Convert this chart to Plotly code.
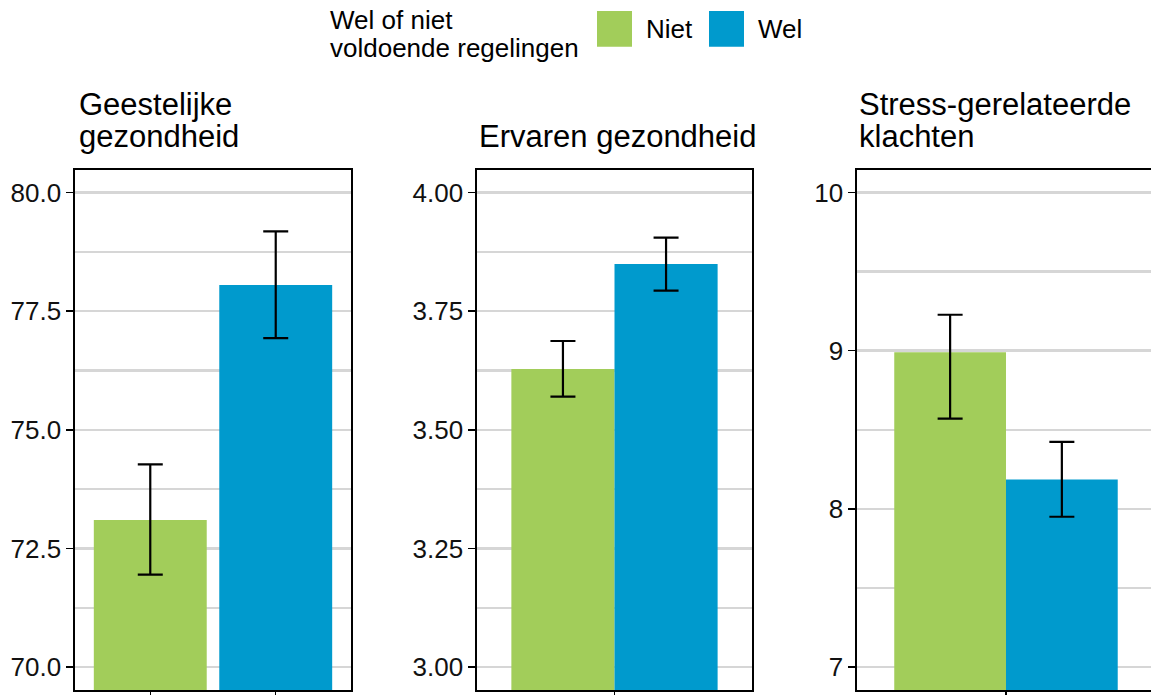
import plotly.graph_objects as go

# ---- data ----
panel_titles = [["Geestelijke", "gezondheid"], ["Ervaren gezondheid"], ["Stress-gerelateerde", "klachten"]]
groups = ["Niet", "Wel"]
legend_title = ["Wel of niet", "voldoende regelingen"]

geest_mean = [73.10, 78.05]
geest_low = [71.95, 76.93]
geest_high = [74.27, 79.18]

ervaren_mean = [3.628, 3.849]
ervaren_low = [3.570, 3.793]
ervaren_high = [3.687, 3.905]

stress_mean = [8.99, 8.185]
stress_low = [8.57, 7.95]
stress_high = [9.227, 8.424]

ytick_geest = [70.0, 72.5, 75.0, 77.5, 80.0]
ytick_ervaren = [3.00, 3.25, 3.50, 3.75, 4.00]
ytick_stress = [7, 8, 9, 10]

colors = {"Niet": "#A2CD5A", "Wel": "#009ACD"}

W, H = 1151, 695
FONT = "Liberation Sans, Arial, sans-serif"

fig = go.Figure()


def err(mean, low, high, i):
    return dict(type="data", array=[high[i] - mean[i]], arrayminus=[mean[i] - low[i]],
                color="black", thickness=2.2, width=12.5, visible=True)


# panel 1: one category per group
for i, g in enumerate(groups):
    fig.add_trace(go.Bar(x=[g], y=[geest_mean[i]], width=0.9, marker_color=colors[g],
                         marker_line_width=0, error_y=err(geest_mean, geest_low, geest_high, i),
                         xaxis="x", yaxis="y", showlegend=False, name=g))

# panels 2 and 3: dodged within one category
for ax, (m, lo, hi) in zip(["2", "3"], [(ervaren_mean, ervaren_low, ervaren_high),
                                        (stress_mean, stress_low, stress_high)]):
    for i, g in enumerate(groups):
        fig.add_trace(go.Bar(x=[""], y=[m[i]], width=0.45, offset=-0.45 if i == 0 else 0.0,
                             marker_color=colors[g], marker_line_width=0,
                             error_y=err(m, lo, hi, i),
                             xaxis="x" + ax, yaxis="y" + ax, showlegend=False, name=g))

ydom = [1 - 692 / H, 1 - 170 / H]
xdoms = [[75 / W, 351 / W], [477 / W, 752 / W], [857 / W, 1.0]]
xranges = [[-0.6, 1.6], [-0.6, 0.6], [-0.6, 0.584]]
yranges = [[69.517, 80.483], [2.9517, 4.0483], [6.855, 10.145]]
yticks = [ytick_geest, ytick_ervaren, ytick_stress]
yfmt = [".1f", ".2f", "d"]
ydt = [2.5, 0.25, 1.0]

grid = "#D6D6D6"
layout = dict(width=W, height=H, margin=dict(l=0, r=0, t=0, b=0),
              paper_bgcolor="white", plot_bgcolor="white", barmode="overlay",
              font=dict(family=FONT, size=26, color="black"), showlegend=False)

for k in range(3):
    s = "" if k == 0 else str(k + 1)
    layout["xaxis" + s] = dict(domain=xdoms[k], range=xranges[k], anchor="y" + s,
                               showline=True, linecolor="black", linewidth=1.6, mirror=True,
                               ticks="outside", ticklen=5, tickwidth=1.5, tickcolor="black",
                               showticklabels=False, showgrid=False, zeroline=False, fixedrange=True)
    layout["yaxis" + s] = dict(domain=ydom, range=yranges[k], anchor="x" + s,
                               showline=True, linecolor="black", linewidth=1.6,
                               mirror=(k < 2),
                               tickmode="array", tickvals=yticks[k], tickformat=yfmt[k],
                               ticks="outside", ticklen=7, tickwidth=1.5, tickcolor="black",
                               tickfont=dict(size=26, color="#111111", family=FONT),
                               showgrid=True, gridcolor=grid, gridwidth=2.5, zeroline=False,
                               minor=dict(dtick=ydt[k] / 2, tick0=yticks[k][0], showgrid=True,
                                          gridcolor=grid, gridwidth=2.5),
                               fixedrange=True)

fig.update_layout(**layout)

annotations = []
title_x = [77, 477, 857]
for k in range(3):
    lines = panel_titles[k]
    ys = [105, 137] if len(lines) == 2 else [137]
    for line, yy in zip(lines, ys):
        annotations.append(dict(text=line, xref="paper", yref="paper",
                                x=title_x[k] / W, y=1 - yy / H, xanchor="left", yanchor="middle",
                                align="left", showarrow=False,
                                font=dict(size=31, family=FONT, color="black")))

# legend (manual, large keys)
for line, yy in zip(legend_title, [20, 48]):
    annotations.append(dict(text=line, xref="paper", yref="paper", x=328 / W, y=1 - yy / H,
                            xanchor="left", yanchor="middle", align="left", showarrow=False,
                            font=dict(size=26, family=FONT, color="black")))
key_x = [597, 709]
shapes = []
for i, g in enumerate(groups):
    shapes.append(dict(type="rect", xref="paper", yref="paper",
                       x0=key_x[i] / W, x1=(key_x[i] + 35) / W,
                       y0=1 - 47 / H, y1=1 - 11 / H, fillcolor=colors[g], line_width=0))
    annotations.append(dict(text=g, xref="paper", yref="paper", x=(key_x[i] + 47) / W,
                            y=1 - 29 / H, xanchor="left", yanchor="middle", showarrow=False,
                            font=dict(size=26, family=FONT, color="black")))

fig.update_layout(annotations=annotations, shapes=shapes)
fig.write_html("out.html", config={"displayModeBar": False, "staticPlot": True},
               post_script="document.body.style.margin='0';document.body.style.overflow='hidden';")
